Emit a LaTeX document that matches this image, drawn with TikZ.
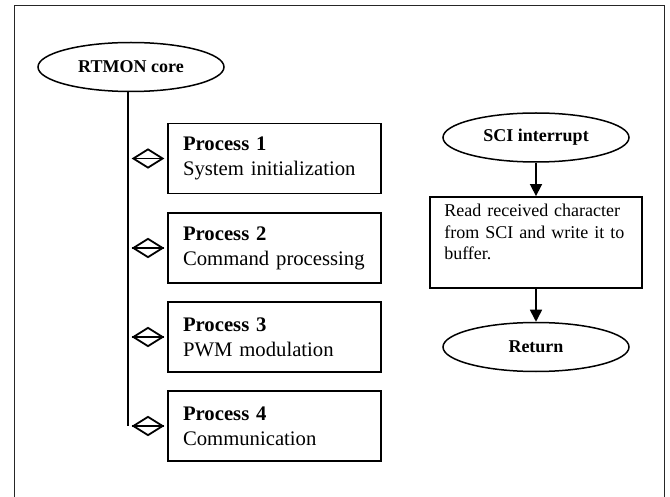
\documentclass[tikz,border=0pt]{standalone}
\usepackage{fontspec}
\setmainfont{Liberation Serif}
\usetikzlibrary{shapes.geometric,arrows.meta}

\tikzset{
  oval/.style={ellipse, draw, line width=1.5pt, minimum width=186pt, minimum height=49pt,
    inner sep=0pt, font=\fontsize{18}{21}\selectfont\bfseries},
  procbox/.style={rectangle, draw, line width=1.8pt, minimum width=213pt, minimum height=70pt,
    text width=183pt, inner xsep=15pt, inner ysep=0pt, align=left,
    font=\fontsize{20.7}{25}\selectfont},
  joint/.style={diamond, draw, line width=1.8pt, minimum width=30pt, minimum height=19pt,
    inner sep=0pt},
  flow/.style={line width=1.6pt, -{Triangle[length=12pt,width=12pt]}},
  spine/.style={line width=1.4pt},
  frame/.style={line width=0.9pt, draw=black!85}
}

\begin{document}
\begin{tikzpicture}[x=1pt,y=-1pt]
  \useasboundingbox (0,0) rectangle (670,497);

  % open outer frame
  \draw[frame] (14,497) -- (14,5) -- (664,5) -- (664,497);

  % core and its processes
  \node[oval] (core) at (131,67) {RTMON core};
  \coordinate (spineend) at (128,426);
  \draw[spine] (core.south -| spineend) -- (spineend);

  \foreach \i/\y/\title/\desc in {1/158.5/Process 1/System initialization,
                                  2/248/Process 2/Command processing,
                                  3/337/Process 3/PWM modulation,
                                  4/426/Process 4/Communication}{
    \node[procbox] (p\i) at (274.5,\y) {\textbf{\title}\\\desc};
    \node[joint] (d\i) at (148,\y) {};
    \draw[line width=1.3pt] (d\i.west) -- (d\i.east);
  }

  % SCI interrupt routine
  \node[oval] (sci) at (536,137.5) {SCI interrupt};
  \node[rectangle, draw, line width=1.8pt, minimum width=212pt, minimum height=91pt,
        inner sep=0pt] (rd) at (536,242.5) {};
  \node[anchor=north west, inner sep=0pt, text width=185pt, align=left,
        font=\fontsize{18}{21.5}\selectfont] (rdtext) at ([xshift=15pt,yshift=-8pt]rd.north west)
        {Read received character\\from SCI and write it to\\buffer.};
  \node[oval] (ret) at (536,347) {Return};

  \draw[flow] (sci.south) -- (rd.north);
  \draw[flow] (rd.south) -- (ret.north);
\end{tikzpicture}
\end{document}
